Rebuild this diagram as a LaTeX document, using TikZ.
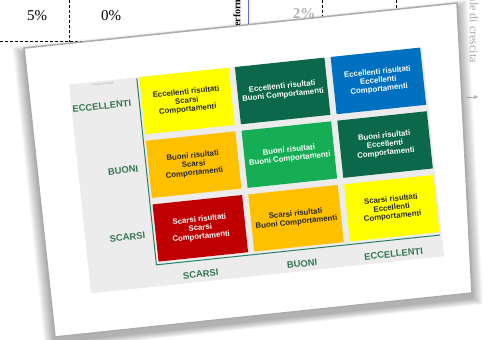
\documentclass[tikz,border=0pt]{standalone}
\usepackage{fontspec}
\setmainfont{Liberation Serif}
\setsansfont{Liberation Sans}
\usetikzlibrary{arrows.meta}

\definecolor{giallo}{RGB}{255,255,0}
\definecolor{arancio}{RGB}{255,192,0}
\definecolor{rosso}{RGB}{192,0,0}
\definecolor{verdescuro}{RGB}{12,104,74}
\definecolor{verde}{RGB}{22,174,84}
\definecolor{blu}{RGB}{0,112,192}
\definecolor{assi}{RGB}{40,128,108}
\definecolor{etichetta}{RGB}{52,118,80}
\definecolor{pannello}{RGB}{236,236,236}

\begin{document}
\begin{tikzpicture}[x=1pt, y=-1pt,
    cell/.style={minimum width=90pt, minimum height=57.5pt, inner sep=1pt, align=center,
      font=\sffamily\bfseries\fontsize{7.8}{8.6}\selectfont, transform shape},
    dark/.style={cell, text=black!85},
    light/.style={cell, text=white},
    axislabel/.style={font=\sffamily\bfseries\fontsize{9.4}{11}\selectfont,
      text=etichetta, inner sep=0pt, transform shape},
    tab/.style={dash pattern=on 3pt off 2pt, line width=0.6pt}]
  \clip (0,0) rectangle (491,340);

  % table behind the card
  \draw[tab] (0,41.5) -- (90,41.5);
  \draw[tab] (69,0) -- (69,41.5);
  \draw[tab] (322,0) -- (322,25);
  \draw[tab] (396,0) -- (396,25);
  \draw[blue!60, line width=0.8pt] (248,0) -- (248,30);
  \node[font=\fontsize{15}{18}\selectfont] (p5) at (37,16) {5\%};
  \node[font=\fontsize{15}{18}\selectfont] (p0) at (111,16) {0\%};
  \node[font=\bfseries\fontsize{15}{18}\selectfont, text=gray!60] (p2) at (304,14) {2\%};
  \node[font=\bfseries\fontsize{10}{12}\selectfont, rotate=90, anchor=west, inner sep=0pt]
    (perf) at (237,33) {Performance};
  \node[font=\fontsize{12}{14}\selectfont, text=gray!70, rotate=-90, anchor=east, inner sep=0pt]
    (tasso) at (474,63) {Tasso annuale di crescita};
  \coordinate (frecciaA) at (467,97);
  \coordinate (frecciaB) at (478,97);
  \draw[gray!60, -{Triangle[length=4pt, width=4pt]}] (frecciaA) -- (frecciaB);

  % shadow and card
  \foreach \s in {1,...,10}
    \fill[black, opacity=0.035, shift={(252,175)}, scale=1+0.005*\s, shift={(-252,-170)}]
      (24,48) -- (457,3) -- (472,293) -- (55,337) -- cycle;
  \filldraw[fill=white, draw=gray!65, line width=1.5pt]
    (24,48) -- (457,3) -- (472,293) -- (55,337) -- cycle;

  \begin{scope}[shift={(24,48)}, rotate=6]
    \fill[pannello] (41,41) rectangle (396,251);
    % cells
    \node[dark, fill=giallo] (c11) at (156.5,69.75) {Eccellenti risultati\\Scarsi\\Comportamenti};
    \node[light, fill=verdescuro] (c12) at (252.75,69.75) {Eccellenti risultati\\Buoni Comportamenti};
    \node[light, fill=blu] (c13) at (349,69.75) {Eccellenti risultati\\Eccellenti\\Comportamenti};
    \node[dark, fill=arancio] (c21) at (156.5,133.75) {Buoni risultati\\Scarsi\\Comportamenti};
    \node[light, fill=verde] (c22) at (252.75,133.75) {Buoni risultati\\Buoni Comportamenti};
    \node[light, fill=verdescuro] (c23) at (349,133.75) {Buoni risultati\\Eccellenti\\Comportamenti};
    \node[light, fill=rosso] (c31) at (156.5,197.75) {Scarsi risultati\\Scarsi\\Comportamenti};
    \node[dark, fill=arancio] (c32) at (252.75,197.75) {Scarsi risultati\\Buoni Comportamenti};
    \node[dark, fill=giallo] (c33) at (349,197.75) {Scarsi risultati\\Eccellenti\\Comportamenti};
    % axes
    \coordinate (ytop) at (109,42);
    \coordinate (orig) at (109,229.5);
    \coordinate (xend) at (394,229.5);
    \draw[assi, line width=1pt] (ytop) -- (orig) -- (xend);
    \node[font=\sffamily\fontsize{2.6}{3}\selectfont, text=gray!70, transform shape] (titolo) at (75,44) {il livello dei risultati};
    \node[axislabel, anchor=east] (r1) at (101,66) {ECCELLENTI};
    \node[axislabel, anchor=east] (r2) at (101,132) {BUONI};
    \node[axislabel, anchor=east] (r3) at (101,199) {SCARSI};
    \node[axislabel] (k1) at (152,243.5) {SCARSI};
    \node[axislabel] (k2) at (254,243.5) {BUONI};
    \node[axislabel] (k3) at (346,243.5) {ECCELLENTI};
  \end{scope}
\end{tikzpicture}
\end{document}
